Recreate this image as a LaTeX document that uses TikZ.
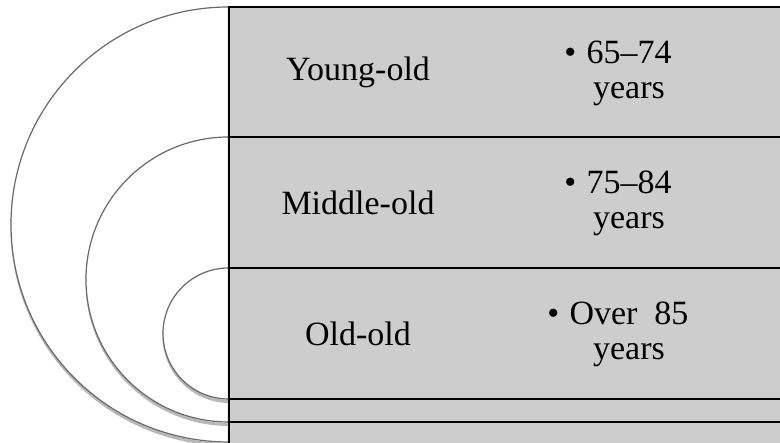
\documentclass[tikz,border=0pt]{standalone}
\usepackage{fontspec}
\setmainfont{Liberation Serif}[Ligatures=TeX]
\newfontfamily\labelfont{Liberation Serif}
\usepackage{tikz}

\definecolor{bandgray}{RGB}{205,205,205}
\definecolor{rimgray}{RGB}{105,105,105}

\begin{document}
\begin{tikzpicture}[x=1pt,y=1pt,
    every node/.style={font=\labelfont\fontsize{34}{35}\selectfont, inner sep=0pt},
    agelist/.style={align=center}]
    \useasboundingbox (0,0) rectangle (780,443);

    % grey bands behind everything
    \fill[bandgray] (228.5,0) rectangle (790,436);

    % half circles, outer to inner (centre y / radius)
    \foreach \cy/\r in {218.5/217.5, 163.5/142.5, 109.5/65.5} {
      \draw[black!28, line width=3] (229.5,\cy+\r-2.5) arc[start angle=90, end angle=270, radius=\r];
      \filldraw[fill=white, draw=rimgray, line width=1.2] (228.5,\cy+\r) arc[start angle=90, end angle=270, radius=\r] -- cycle;
    }

    % band borders
    \draw[line width=2] (228.5,0) -- (228.5,437);
    \foreach \y in {436, 306, 175, 44, 21}
      \draw[line width=2] (227.5,\y) -- (790,\y);

    % labels
    \node (young) at (358,371) {Young-old};
    \node[agelist] (youngage) at (629,370) {\llap{\textbullet\hspace{0.3em}}65–74\\years};
    \node (middle) at (358,240.5) {Middle-old};
    \node[agelist] (middleage) at (629,239.5) {\llap{\textbullet\hspace{0.3em}}75–84\\years};
    \node (old) at (358,109.5) {Old-old};
    \node[agelist] (oldage) at (629,108.5) {\llap{\textbullet\hspace{0.3em}}Over~~85\\years};
\end{tikzpicture}
\end{document}
